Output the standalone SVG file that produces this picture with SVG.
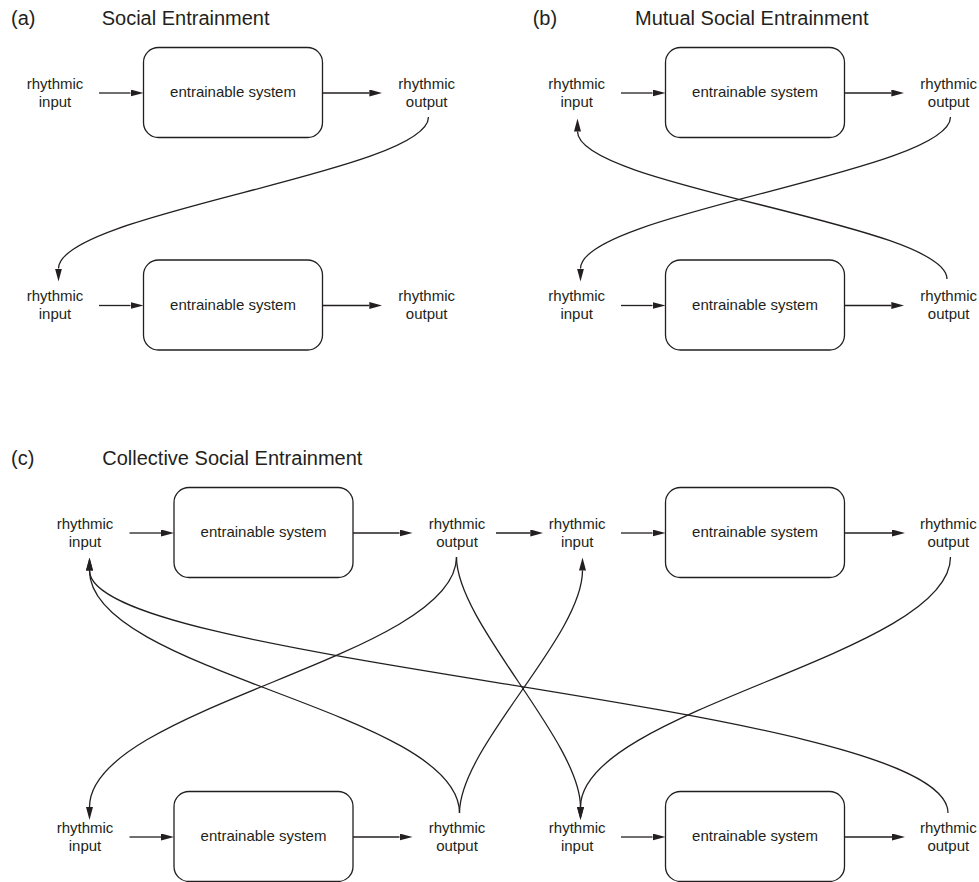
<svg xmlns="http://www.w3.org/2000/svg" width="979" height="882" viewBox="0 0 979 882">
<style>
text{font-family:"Liberation Sans",Arial,Helvetica,sans-serif;fill:#231f20}
.t{font-size:20px}
.l{font-size:15px;text-anchor:middle}
.box{fill:#fff;stroke:#231f20;stroke-width:1.3}
.c{fill:none;stroke:#231f20;stroke-width:1.3;marker-end:url(#ah)}
</style>
<defs>
<marker id="ah" markerUnits="userSpaceOnUse" markerWidth="13" markerHeight="7" viewBox="0 0 13 7" refX="0" refY="3.5" orient="auto">
<path d="M0,0 L13,3.5 L0,7 z" fill="#231f20"/>
</marker>
</defs>
<rect width="979" height="882" fill="#fff"/>

<g id="titles">
<text class="t" x="11" y="24.5">(a)</text>
<text class="t" x="101.7" y="24.5">Social Entrainment</text>
<text class="t" x="532.7" y="24.5">(b)</text>
<text class="t" x="635" y="24.5">Mutual Social Entrainment</text>
<text class="t" x="11" y="464.5">(c)</text>
<text class="t" x="102.3" y="464.5">Collective Social Entrainment</text>
</g>

<!-- panel a -->
<g id="a-in1"><text class="l" x="55" y="88.5">rhythmic</text><text class="l" x="55" y="106.5">input</text></g>
<g id="a-sys1"><rect class="box" x="143.5" y="47.5" width="179" height="90" rx="15"/><text class="l" x="233" y="97">entrainable system</text></g>
<g id="a-out1"><text class="l" x="426.7" y="88.5">rhythmic</text><text class="l" x="426.7" y="106.5">output</text></g>
<g id="a-in2"><text class="l" x="55" y="301">rhythmic</text><text class="l" x="55" y="319">input</text></g>
<g id="a-sys2"><rect class="box" x="143.5" y="260" width="179" height="90" rx="15"/><text class="l" x="233" y="309.5">entrainable system</text></g>
<g id="a-out2"><text class="l" x="426.7" y="301">rhythmic</text><text class="l" x="426.7" y="319">output</text></g>

<!-- panel b -->
<g id="b-in1"><text class="l" x="576.7" y="88.5">rhythmic</text><text class="l" x="576.7" y="106.5">input</text></g>
<g id="b-sys1"><rect class="box" x="665.5" y="47.5" width="179" height="90" rx="15"/><text class="l" x="755" y="97">entrainable system</text></g>
<g id="b-out1"><text class="l" x="948.7" y="88.5">rhythmic</text><text class="l" x="948.7" y="106.5">output</text></g>
<g id="b-in2"><text class="l" x="576.7" y="301">rhythmic</text><text class="l" x="576.7" y="319">input</text></g>
<g id="b-sys2"><rect class="box" x="665.5" y="260" width="179" height="90" rx="15"/><text class="l" x="755" y="309.5">entrainable system</text></g>
<g id="b-out2"><text class="l" x="948.7" y="301">rhythmic</text><text class="l" x="948.7" y="319">output</text></g>

<!-- panel c -->
<g id="c-in1"><text class="l" x="85" y="528.5">rhythmic</text><text class="l" x="85" y="546.5">input</text></g>
<g id="c-sys1"><rect class="box" x="174" y="487.5" width="179" height="90" rx="15"/><text class="l" x="263.5" y="537">entrainable system</text></g>
<g id="c-out1"><text class="l" x="457" y="528.5">rhythmic</text><text class="l" x="457" y="546.5">output</text></g>
<g id="c-in2"><text class="l" x="577.2" y="528.5">rhythmic</text><text class="l" x="577.2" y="546.5">input</text></g>
<g id="c-sys2"><rect class="box" x="665.5" y="487.5" width="179" height="90" rx="15"/><text class="l" x="755" y="537">entrainable system</text></g>
<g id="c-out2"><text class="l" x="948.3" y="528.5">rhythmic</text><text class="l" x="948.3" y="546.5">output</text></g>
<g id="c-in3"><text class="l" x="85" y="832.5">rhythmic</text><text class="l" x="85" y="850.5">input</text></g>
<g id="c-sys3"><rect class="box" x="174" y="791.5" width="179" height="90" rx="15"/><text class="l" x="263.5" y="841">entrainable system</text></g>
<g id="c-out3"><text class="l" x="457" y="832.5">rhythmic</text><text class="l" x="457" y="850.5">output</text></g>
<g id="c-in4"><text class="l" x="577.2" y="832.5">rhythmic</text><text class="l" x="577.2" y="850.5">input</text></g>
<g id="c-sys4"><rect class="box" x="665.5" y="791.5" width="179" height="90" rx="15"/><text class="l" x="755" y="841">entrainable system</text></g>
<g id="c-out4"><text class="l" x="948.3" y="832.5">rhythmic</text><text class="l" x="948.3" y="850.5">output</text></g>

<g id="connectors">
<!-- a -->
<path class="c" d="M99,93 H130.5"/>
<path class="c" d="M322.5,93 H369.3"/>
<path class="c" d="M99,305.5 H130.5"/>
<path class="c" d="M322.5,305.5 H369.3"/>
<path class="c" d="M428.5,117 C428.5,172 58.5,213 58.5,268.5"/>
<!-- b -->
<path class="c" d="M621,93 H652.5"/>
<path class="c" d="M844.5,93 H891.3"/>
<path class="c" d="M621,305.5 H652.5"/>
<path class="c" d="M844.5,305.5 H891.3"/>
<path class="c" d="M950.5,117 C950.5,172 580.5,213 580.5,268.5"/>
<path class="c" d="M947,279 C947,224 577.5,186.5 577.5,131.5"/>
<!-- c -->
<path class="c" d="M129.5,533 H161"/>
<path class="c" d="M353,533 H399.5"/>
<path class="c" d="M496,533 H530.3"/>
<path class="c" d="M621,533 H652.5"/>
<path class="c" d="M844.5,533 H892"/>
<path class="c" d="M129.5,837 H161"/>
<path class="c" d="M353,837 H399.5"/>
<path class="c" d="M621,837 H652.5"/>
<path class="c" d="M844.5,837 H892"/>
<path class="c" d="M456.5,557 C456.5,657 89.5,707 89.5,807"/>
<path class="c" d="M456.5,557 C456.5,623 580.5,741 580.5,807"/>
<path class="c" d="M459.5,813 C459.5,711 89.5,672.5 89.5,570.5"/>
<path class="c" d="M459.5,813 C459.5,747 582.5,636.5 582.5,570.5"/>
<path class="c" d="M950.5,557 C950.5,655 580.5,709 580.5,807"/>
<path class="c" d="M948,813 C948,703 89.5,665.5 89.5,570.5"/>
</g>
</svg>
